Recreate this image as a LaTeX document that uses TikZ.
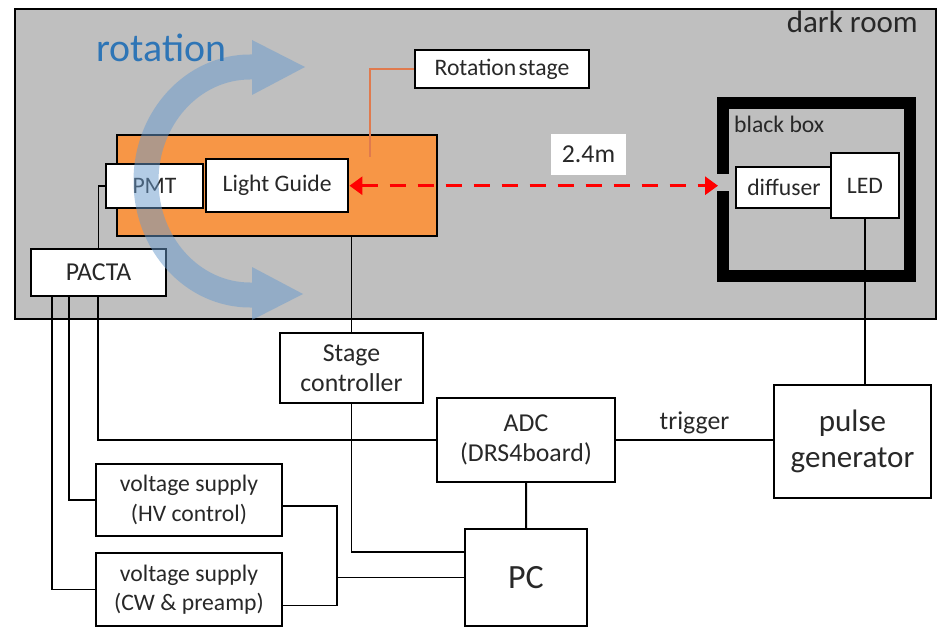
\documentclass[tikz,border=0pt]{standalone}
\usepackage{fontspec}
\setmainfont{Carlito}
\usetikzlibrary{calc,positioning,arrows.meta}
\definecolor{roomgray}{RGB}{191,191,191}
\definecolor{stageorange}{RGB}{247,150,70}
\definecolor{rotblue}{RGB}{46,117,182}
\definecolor{arcblue}{RGB}{105,155,205}
\definecolor{wireorange}{RGB}{224,122,78}
\definecolor{txtgray}{RGB}{40,40,40}
\tikzset{box/.style={draw=black, fill=white, line width=1.7pt, anchor=north west, inner sep=1pt, align=center, text=txtgray}}
\tikzset{wire/.style={draw=black, line width=1.7pt}}
\tikzset{smalltxt/.style={font=\fontsize{20.2}{25}\selectfont}}
\tikzset{midtxt/.style={font=\fontsize{22}{26}\selectfont}}
\tikzset{bigtxt/.style={font=\fontsize{26.5}{31}\selectfont}}

\begin{document}
\begin{tikzpicture}[
  x=0.3mm,y=-0.3mm,
  room/.style={draw=black, fill=roomgray, line width=1.8pt, anchor=north west, inner sep=0pt},
  stagebox/.style={draw=black, fill=stageorange, line width=1.8pt, anchor=north west, inner sep=0pt},
  redline/.style={draw=red, line width=2.6pt, dash pattern=on 4.8mm off 3.6mm},
  note/.style={text=txtgray, inner sep=0pt}
]
  \useasboundingbox (0,0) rectangle (938,627);

  \node[room, minimum width=276.3mm, minimum height=93mm] (room) at (14,8) {};
  \node[note, bigtxt, anchor=base east] (roomlbl) at (918,33) {dark room};

  \node[stagebox, minimum width=96mm, minimum height=30.3mm] (stage) at (116,134) {};
  \node[box, smalltxt, minimum width=52.2mm, minimum height=11.4mm] (rotstage) at (414,49) {Rotation\hspace{2pt}stage};
  \coordinate (stagetap) at (370,157);
  \draw[draw=wireorange, line width=1pt] (rotstage.west) -| (stagetap);

  \node[box, smalltxt, minimum width=29.1mm, minimum height=13.2mm] (pmt) at (105,163) {PMT};
  \node[box, smalltxt, line width=2.1pt, minimum width=42.6mm, minimum height=15.9mm] (guide) at (205,158) {Light Guide};

  \draw[line width=3.6mm, line join=miter] (723,174) -- (723,103) -- (910,103) -- (910,276) -- (723,276) -- (723,191);
  \node[note, smalltxt, anchor=base west] (bblbl) at (734,133) {black box};
  \node[box, smalltxt, minimum width=28.8mm, minimum height=12.3mm] (diffuser) at (735,166) {diffuser};
  \node[box, smalltxt, minimum width=20.4mm, minimum height=19.5mm] (led) at (830,152) {LED};

  \node[fill=white, text=txtgray, midtxt, minimum width=22.5mm, minimum height=12.3mm, inner sep=0pt] (dist) at (588.5,154.5) {2.4m};
  \coordinate (gap) at (718,183);
  \draw[redline, {Triangle[length=3.9mm, width=5.4mm]}-{Triangle[length=3.9mm, width=5.4mm]}] (guide.east) -- (guide.east -| gap);

  \node[box, midtxt, minimum width=40.5mm, minimum height=14.1mm] (pacta) at (30,248) {PACTA};

  \fill[arcblue, fill opacity=0.5]
    (252,54.5) -- (252,40) -- (305,67) -- (252,95) -- (252,79.5) -- (250,79.5)
    arc[start angle=-90, end angle=-270, x radius=91.5, y radius=101.5]
    -- (252,282.5) -- (252,267) -- (303,294) -- (252,320) -- (252,307.5) -- (250,307.5)
    arc[start angle=90, end angle=270, x radius=116.5, y radius=126.5] -- cycle;
  \node[text=rotblue, font=\fontsize{34}{40}\selectfont, inner sep=0pt, anchor=base west] (rotlbl) at (96,62) {rotation};

  \node[box, midtxt, minimum width=42.9mm, minimum height=21mm] (ctrl) at (279,332) {Stage\\controller};
  \node[box, midtxt, minimum width=53.4mm, minimum height=25.2mm] (adc) at (436,397) {ADC\\(DRS4board)};
  \node[box, font=\fontsize{29}{34}\selectfont, minimum width=36.6mm, minimum height=29.1mm] (pc) at (464,528) {PC};
  \node[box, bigtxt, minimum width=47.1mm, minimum height=33.9mm] (pulse) at (773,384) {pulse\\generator};
  \node[box, smalltxt, minimum width=55.8mm, minimum height=21.6mm] (hv) at (95,463) {voltage supply\\(HV control)};
  \node[box, smalltxt, minimum width=55.8mm, minimum height=21.9mm] (cw) at (95,552) {voltage supply\\(CW \& preamp)};

  \draw[wire] (pmt.west) -| (pacta.north);
  \draw[wire] ($(pacta.south west)+(68,0)$) |- (adc.west);
  \draw[wire] ($(pacta.south west)+(39,0)$) |- (hv.west);
  \draw[wire] ($(pacta.south west)+(22,0)$) |- (cw.west);

  \draw[wire] (ctrl.north) -- (ctrl.north |- stage.south);
  \draw[wire] (ctrl.south) |- ($(pc.north west)+(0,24)$);

  \coordinate (pssplit) at (337,0);
  \draw[wire] ($(hv.east)+(0,6)$) -| (pssplit |- pc.west) -- (pc.west);
  \draw[wire] ($(cw.east)+(0,16)$) -| (pssplit |- pc.west);

  \draw[wire] (adc.south) -- (pc.north);
  \draw[wire] (adc.east) -- node[midtxt, text=txtgray, above, inner sep=4pt] {trigger} (adc.east -| pulse.west);
  \draw[wire] (led.south) -- (led.south |- pulse.north);
\end{tikzpicture}
\end{document}
